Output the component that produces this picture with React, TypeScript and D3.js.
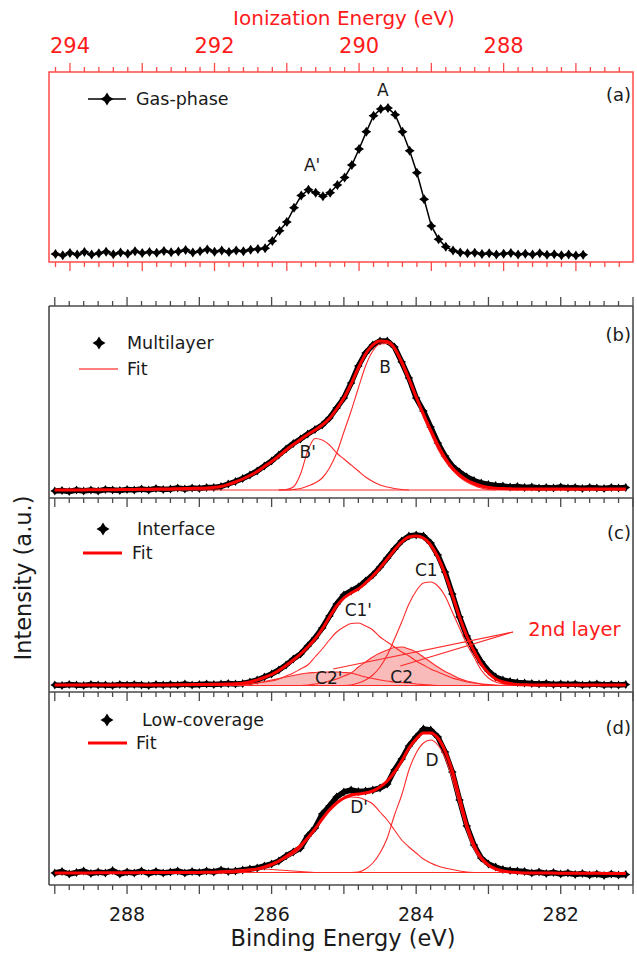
import * as d3 from 'd3'

const W = 637
const H = 953
const FONT = '"DejaVu Sans", Verdana, sans-serif'
const RED = '#ff0000'
const THIN_RED = '#ff2a2a'
const AXIS_RED = '#ff4a4a'
const AXIS = '#4a4a4a'
const PINK = '#f9baba'
const INK = '#1a1a1a'

// every trace is sampled every 0.1 eV, going down in energy
const STEP = 0.1
const grid = (start: number, n: number) =>
  d3.range(n).map((i) => Math.round((start - i * STEP) * 10) / 10)

// (a) gas phase, ionization energy 294.2 -> 286.9 eV
const gasStart = 294.2
const gasPhase = [
  4.2, 3.6, 4.8, 4.0, 5.2, 3.9, 4.6, 5.4, 4.1, 5.0,
  4.4, 5.6, 4.7, 5.3, 4.9, 5.8, 5.1, 5.5, 6.3, 5.0,
  5.7, 6.6, 5.4, 6.0, 5.2, 6.1, 5.6, 6.4, 6.8, 7.2,
  11.0, 16.5, 21.0, 28.5, 35.0, 38.0, 36.4, 34.6, 36.5, 40.5,
  44.5, 51.0, 59.5, 68.5, 77.0, 80.5, 81.0, 77.5, 68.5, 58.5,
  47.0, 33.0, 19.0, 12.0, 8.0, 6.0, 5.0, 4.6, 4.9, 4.2,
  4.6, 4.0, 4.4, 4.8, 3.9, 4.3, 4.0, 4.6, 3.8, 4.1,
  3.5, 4.0, 3.4, 3.8,
]

// (b)-(d) binding energy 289.0 -> 281.1 eV
const beStart = 289.0

const multilayerData = [
  7, 7.5, 6.5, 8, 7, 8, 7, 8.5, 8, 7.5,
  8.5, 8, 9, 8, 9.5, 8.5, 9, 10, 9, 10,
  9.5, 10.5, 10.5, 11.5, 14, 16.5, 19.5, 23, 27, 32,
  37, 43, 49, 54.5, 59, 64, 68.5, 73, 80, 90,
  100, 115, 132, 145, 153, 157, 157, 151, 136, 120,
  100, 87, 71, 55, 42, 32, 26, 21, 17.5, 15,
  13.5, 12.5, 12, 11, 11.5, 10.5, 11, 10, 10.5, 10,
  11, 10, 10.5, 9.5, 10.5, 10, 9.5, 10.5, 10, 10.5,
]
const multilayerFit = [
  8, 8, 8, 8.1, 8.1, 8.2, 8.2, 8.3, 8.3, 8.4,
  8.5, 8.6, 8.7, 8.8, 8.9, 9, 9.1, 9.2, 9.4, 9.6,
  9.8, 10.1, 10.6, 11.5, 13.5, 16, 19, 22.5, 26.5, 31.5,
  36.5, 42, 48, 53.5, 58.5, 63.5, 68, 73, 79.5, 89,
  100, 114, 130, 144, 153, 157, 156.5, 150, 136, 119,
  101, 84, 68, 53, 40, 30, 23, 18, 14.5, 12,
  10.5, 9.8, 9.4, 9.2, 9, 9, 9, 9, 9, 9,
  9, 9, 9, 9, 9, 9, 9, 9, 9, 9,
]
const multilayerBase = 8
const peakBStart = 285.9
const peakB = [
  8, 8, 8.5, 9.5, 12, 15, 20, 30, 45, 66,
  87, 110, 132, 147, 154, 154.5, 148, 134, 117, 100,
  81, 65, 49, 37, 28, 21, 16, 12.5, 10, 8.5, 8,
]
const peakBpStart = 285.9
const peakBp = [
  8, 8.5, 11, 24, 47, 59.5, 58, 53, 45, 39,
  33, 27, 21, 16.5, 13, 11, 9.5, 8.5, 8,
]

const interfaceData = [
  7, 6.5, 7.5, 7, 6.5, 7.5, 7, 7, 6.5, 7.5,
  7, 7.5, 7, 6.5, 7.5, 7, 7.5, 7, 8, 7,
  7.5, 8, 7.5, 8, 8.5, 8, 8.5, 10, 12, 15,
  18, 22, 27, 33, 38, 46, 54, 64, 76, 88,
  97, 101, 105, 111, 117, 125, 134, 143, 151, 156,
  157, 156, 149, 137, 120, 98, 75, 56, 42, 30,
  21, 15, 12, 10.5, 9.5, 9, 8.5, 8, 8.5, 7.5,
  8, 7.5, 8, 7, 7.5, 8, 7, 7.5, 7, 7.5,
]
const interfaceFit = [
  7, 7, 7, 7, 7, 7, 7, 7, 7, 7,
  7, 7, 7, 7, 7, 7.1, 7.1, 7.2, 7.3, 7.4,
  7.5, 7.6, 7.7, 7.8, 8, 8.3, 8.8, 10, 12, 14.5,
  17.5, 21.5, 26.5, 32, 38, 45, 53, 63, 75, 86,
  94, 99, 103, 109, 116, 124, 133, 142, 150, 155,
  156, 154, 147, 135, 118, 97, 75, 56, 41, 28,
  19, 13, 10, 8.5, 7.5, 7.2, 7, 7, 7, 7,
  7, 7, 7, 7, 7, 7, 7, 7, 7, 7,
]
const interfaceBase = 6.5
const peakC1Start = 285.0
const peakC1 = [
  6.5, 7, 9, 12, 17, 25, 37, 53, 70, 88,
  101, 109, 110, 106, 96, 80, 64, 48, 35, 22,
  14, 10, 8, 7, 6.5,
]
const peakC1pStart = 286.4
const peakC1p = [
  6.5, 8, 9, 10, 11, 13, 16, 19, 23, 27,
  35, 43, 52, 60, 65, 68.5, 69, 66, 62, 55,
  50, 45, 40, 36, 31, 27, 23, 20, 17, 14,
  12, 10, 9, 8, 7, 6.5,
]
const peakC2Start = 285.6
const peakC2 = [
  6.5, 7, 8, 9, 11, 13, 16, 19, 25, 30,
  35, 39, 42, 44.5, 45, 43, 40, 35, 30, 25,
  20.5, 17, 13.5, 11, 9.5, 8, 7.5, 7, 6.5,
]
const peakC2pStart = 286.6
const peakC2p = [
  6.5, 7, 7.5, 8, 9, 10.5, 12, 13.5, 15, 16.5,
  18, 19, 19.5, 20, 20, 20, 19.5, 19, 17, 15,
  13.5, 12, 11, 10, 9.5, 9, 8, 7.5, 7, 6.5,
]

const lowCovData = [
  12, 13.5, 11, 12.5, 14, 11.5, 13, 12, 14.5, 11,
  13, 12, 14, 11.5, 13.5, 12, 13, 14, 12, 13.5,
  12.5, 14, 13, 15, 13.5, 14, 15, 16, 17, 19,
  21, 24, 29, 33, 37, 49, 57, 71, 79, 88,
  93, 95, 93.5, 94, 95, 97, 101, 115, 126, 139,
  148, 156, 155, 148, 133, 113, 85, 59, 40, 27,
  21, 18, 15.5, 14.5, 14, 13.5, 12, 13, 11.5, 12.5,
  11, 12, 10.5, 11.5, 10, 11, 9.5, 11, 10, 10.5,
]
const lowCovFit = [
  12, 12, 12, 12.1, 12.1, 12.1, 12.2, 12.2, 12.2, 12.3,
  12.3, 12.3, 12.4, 12.4, 12.4, 12.5, 12.5, 12.5, 12.5, 12.6,
  12.6, 12.7, 12.8, 12.9, 13, 13.3, 14, 15, 16, 18,
  20.5, 24, 28.5, 33.5, 39.5, 47, 56, 66, 75, 82,
  87, 90, 91, 92, 94, 98, 104, 113, 124, 137,
  146, 152, 152, 147, 134, 114, 87, 60, 40, 27,
  20, 16, 14, 13, 12.5, 12, 12, 12, 11.9, 11.9,
  11.8, 11.8, 11.8, 11.7, 11.7, 11.7, 11.6, 11.6, 11.6, 11.5,
]
const lowCovBase = 12.5
const peakDStart = 285.0
const peakD = [
  12.5, 12.5, 13, 16, 22, 32, 47, 70, 90, 115,
  132, 142, 145, 140, 127, 106, 80, 55, 36, 25,
  19, 15.5, 14, 13, 12.5,
]
const peakDpStart = 286.6
const peakDp = [
  12.5, 13.5, 14, 15, 16, 18, 20, 23, 27, 31,
  37, 46, 56, 66, 75, 82, 86, 88, 87.5, 85,
  81, 73, 65, 55, 45, 38, 32, 26, 22, 19,
  17, 15.5, 14, 13, 12.5,
]
const peakDsStart = 287.0
const peakDs = [
  12.5, 13, 13.5, 14, 14.5, 15, 15.5, 16, 16, 16,
  15.5, 15, 14.5, 14, 13.5, 13, 12.5,
]

// peak labels: energy and height of the label centre
const gasLabels = [
  { text: 'A', e: 289.67, v: 90.5 },
  { text: "A'", e: 290.65, v: 51 },
]
const multilayerLabels = [
  { text: 'B', e: 284.43, v: 131 },
  { text: "B'", e: 285.5, v: 46 },
]
const interfaceLabels = [
  { text: 'C1', e: 283.86, v: 122 },
  { text: "C1'", e: 284.8, v: 82 },
  { text: "C2'", e: 285.21, v: 14 },
  { text: 'C2', e: 284.2, v: 15 },
]
const lowCovLabels = [
  { text: 'D', e: 283.78, v: 125 },
  { text: "D'", e: 284.79, v: 78 },
]

// tick positions in tenths of eV
const beTicks = d3.range(2810, 2891, 2)
const ionTicks = d3.range(2864, 2943, 2)

const star = (r: number, f = 0.32) => {
  const w = r * f
  return `M0,${-r}L${w},${-w}L${r},0L${w},${w}L0,${r}L${-w},${w}L${-r},0L${-w},${-w}Z`
}

export default function App() {
  const x = d3.scaleLinear().domain([289.08, 281.0]).range([49, 633])
  const xIon = d3.scaleLinear().domain([294.29, 286.21]).range([49, 633])
  const ya = d3.scaleLinear().domain([0, 100]).range([262, 72])
  const yb = d3.scaleLinear().domain([0, 192]).range([498, 306])
  const yc = d3.scaleLinear().domain([0, 194]).range([692, 498])
  const yd = d3.scaleLinear().domain([0, 193]).range([885, 692])

  const linePath = (start: number, values: number[], sx: any, sy: any, smooth = true) => {
    const es = grid(start, values.length)
    return d3
      .line<number>()
      .x((_, i) => sx(es[i]))
      .y((v) => sy(v))
      .curve(smooth ? d3.curveMonotoneX : d3.curveLinear)(values) as string
  }
  const areaPath = (start: number, values: number[], base: number, sy: any) => {
    const es = grid(start, values.length)
    return d3
      .area<number>()
      .x((_, i) => x(es[i]))
      .y0(sy(base))
      .y1((v) => sy(v))
      .curve(d3.curveMonotoneX)(values) as string
  }

  const ticks = (list: number[], sx: any, y0: number, dir: number, color: string, key: string) =>
    list.map((k) => (
      <line
        key={key + k}
        x1={sx(k / 10)}
        x2={sx(k / 10)}
        y1={y0}
        y2={y0 + dir * (k % 10 === 0 ? 9 : 5)}
        stroke={color}
        strokeWidth={1.3}
      />
    ))

  const band = (values: number[], sy: any, key: string) => {
    const es = grid(beStart, values.length)
    return (
      <g key={key}>
        <path d={linePath(beStart, values, x, sy, false)} fill="none" stroke="#000" strokeWidth={5.5} strokeLinejoin="round" />
        {values.map((v, i) => (
          <path key={i} d={star(4.4, 0.4)} transform={`translate(${x(es[i])},${sy(v)})`} fill="#000" />
        ))}
      </g>
    )
  }

  const thin = (start: number, values: number[], sy: any, key: string) => (
    <path key={key} d={linePath(start, values, x, sy)} fill="none" stroke={THIN_RED} strokeWidth={1.1} />
  )
  const baseLine = (base: number, sy: any) => (
    <line x1={x(289.0)} x2={x(281.1)} y1={sy(base)} y2={sy(base)} stroke={THIN_RED} strokeWidth={1.1} />
  )
  const fitLine = (values: number[], sy: any) => (
    <path d={linePath(beStart, values, x, sy)} fill="none" stroke={RED} strokeWidth={3} strokeLinejoin="round" />
  )
  const labels = (list: { text: string; e: number; v: number }[], sx: any, sy: any) =>
    list.map((l) => (
      <text key={l.text} x={sx(l.e)} y={sy(l.v)} textAnchor="middle" dominantBaseline="central" fontSize={17} fill={INK}>
        {l.text}
      </text>
    ))
  const panelTag = (t: string, yc0: number) => (
    <text x={631} y={yc0} textAnchor="end" dominantBaseline="central" fontSize={18} fill={INK}>
      {t}
    </text>
  )
  const legend = (mx: number, my: number, tx: number, name: string, lx: number, ly: number, ftx: number, fw: number) => (
    <g>
      <path d={star(6.5, 0.38)} transform={`translate(${mx},${my})`} fill="#000" />
      <text x={tx} y={my} dominantBaseline="central" fontSize={17.5} fill={INK}>{name}</text>
      <line x1={lx} x2={lx + 39} y1={ly} y2={ly} stroke={RED} strokeWidth={fw} />
      <text x={ftx} y={ly} dominantBaseline="central" fontSize={17.5} fill={INK}>Fit</text>
    </g>
  )

  const gasE = grid(gasStart, gasPhase.length)

  return (
    <svg
      width={W}
      height={H}
      style={{ position: 'absolute', left: 0, top: 0, background: '#fff' }}
      fontFamily={FONT}
    >
      <rect width={W} height={H} fill="#fff" />

      {/* top ionization-energy axis */}
      <text x={344} y={25} textAnchor="middle" fontSize={20} fill="#ff1a1a">Ionization Energy (eV)</text>
      {ionTicks.filter((k) => k % 20 === 0).map((k) => (
        <text key={'il' + k} x={xIon(k / 10)} y={53} textAnchor="middle" fontSize={21} fill="#ff1a1a">{k / 10}</text>
      ))}

      {/* (a) gas phase */}
      <rect x={49} y={72} width={584} height={190} fill="none" stroke={AXIS_RED} strokeWidth={1.5} />
      {ticks(ionTicks, xIon, 72, -1, AXIS_RED, 'ta')}
      {ticks(ionTicks, xIon, 262, 1, AXIS_RED, 'ba')}
      <path d={linePath(gasStart, gasPhase, xIon, ya, false)} fill="none" stroke="#000" strokeWidth={1.5} />
      {gasPhase.map((v, i) => (
        <path key={'g' + i} d={star(5, 0.4)} transform={`translate(${xIon(gasE[i])},${ya(v)})`} fill="#000" />
      ))}
      {labels(gasLabels, xIon, ya)}
      <line x1={88} x2={126} y1={99} y2={99} stroke="#000" strokeWidth={1.4} />
      <path d={star(6.5, 0.38)} transform="translate(107,99)" fill="#000" />
      <text x={136} y={99} dominantBaseline="central" fontSize={17.5} fill={INK}>Gas-phase</text>
      {panelTag('(a)', 94)}

      {/* (b)-(d) frame */}
      <line x1={49} x2={49} y1={306} y2={885} stroke={AXIS} strokeWidth={1.6} />
      <line x1={633} x2={633} y1={306} y2={885} stroke={AXIS} strokeWidth={1.6} />
      {[306, 498, 692, 885].map((yy) => (
        <line key={'h' + yy} x1={49} x2={633} y1={yy} y2={yy} stroke={AXIS} strokeWidth={1.5} />
      ))}
      {ticks(beTicks, x, 306, -1, AXIS, 'tb')}
      {ticks(beTicks, x, 498, 1, AXIS, 'bb')}
      {ticks(beTicks, x, 692, 1, AXIS, 'bc')}
      {ticks(beTicks, x, 885, 1, AXIS, 'bd')}

      {/* (b) multilayer */}
      {band(multilayerData, yb, 'db')}
      {baseLine(multilayerBase, yb)}
      {thin(peakBpStart, peakBp, yb, 'bp')}
      {thin(peakBStart, peakB, yb, 'b')}
      {fitLine(multilayerFit, yb)}
      {labels(multilayerLabels, x, yb)}
      {legend(99, 343, 127, 'Multilayer', 79, 369, 127, 1.2)}
      {panelTag('(b)', 334)}

      {/* (c) interface */}
      <path d={areaPath(peakC2pStart, peakC2p, interfaceBase, yc)} fill={PINK} />
      <path d={areaPath(peakC2Start, peakC2, interfaceBase, yc)} fill={PINK} />
      {band(interfaceData, yc, 'dc')}
      {baseLine(interfaceBase, yc)}
      {thin(peakC2pStart, peakC2p, yc, 'c2p')}
      {thin(peakC2Start, peakC2, yc, 'c2')}
      {thin(peakC1pStart, peakC1p, yc, 'c1p')}
      {thin(peakC1Start, peakC1, yc, 'c1')}
      {fitLine(interfaceFit, yc)}
      {labels(interfaceLabels, x, yc)}
      <line x1={x(282.66)} y1={yc(60)} x2={x(285.15)} y2={yc(23)} stroke={THIN_RED} strokeWidth={1.1} />
      <line x1={x(282.66)} y1={yc(60)} x2={x(284.22)} y2={yc(26)} stroke={THIN_RED} strokeWidth={1.1} />
      <text x={x(282.45)} y={yc(56)} fontSize={19.5} fill="#ff1a1a">2nd layer</text>
      {legend(103, 529, 137, 'Interface', 83, 553, 132, 2.8)}
      {panelTag('(c)', 532)}

      {/* (d) low coverage */}
      {band(lowCovData, yd, 'dd')}
      {baseLine(lowCovBase, yd)}
      {thin(peakDsStart, peakDs, yd, 'ds')}
      {thin(peakDpStart, peakDp, yd, 'dp')}
      {thin(peakDStart, peakD, yd, 'd')}
      {fitLine(lowCovFit, yd)}
      {labels(lowCovLabels, x, yd)}
      {legend(107, 720, 142, 'Low-coverage', 88, 743, 136, 2.8)}
      {panelTag('(d)', 727)}

      {/* bottom binding-energy axis */}
      {beTicks.filter((k) => k % 20 === 0).map((k) => (
        <text key={'bl' + k} x={x(k / 10)} y={921} textAnchor="middle" fontSize={19} fill={INK}>{k / 10}</text>
      ))}
      <text x={343} y={946} textAnchor="middle" fontSize={22.5} fill={INK}>Binding Energy (eV)</text>
      <text transform="translate(31,578) rotate(-90)" textAnchor="middle" fontSize={22.5} fill={INK}>Intensity (a.u.)</text>
    </svg>
  )
}
